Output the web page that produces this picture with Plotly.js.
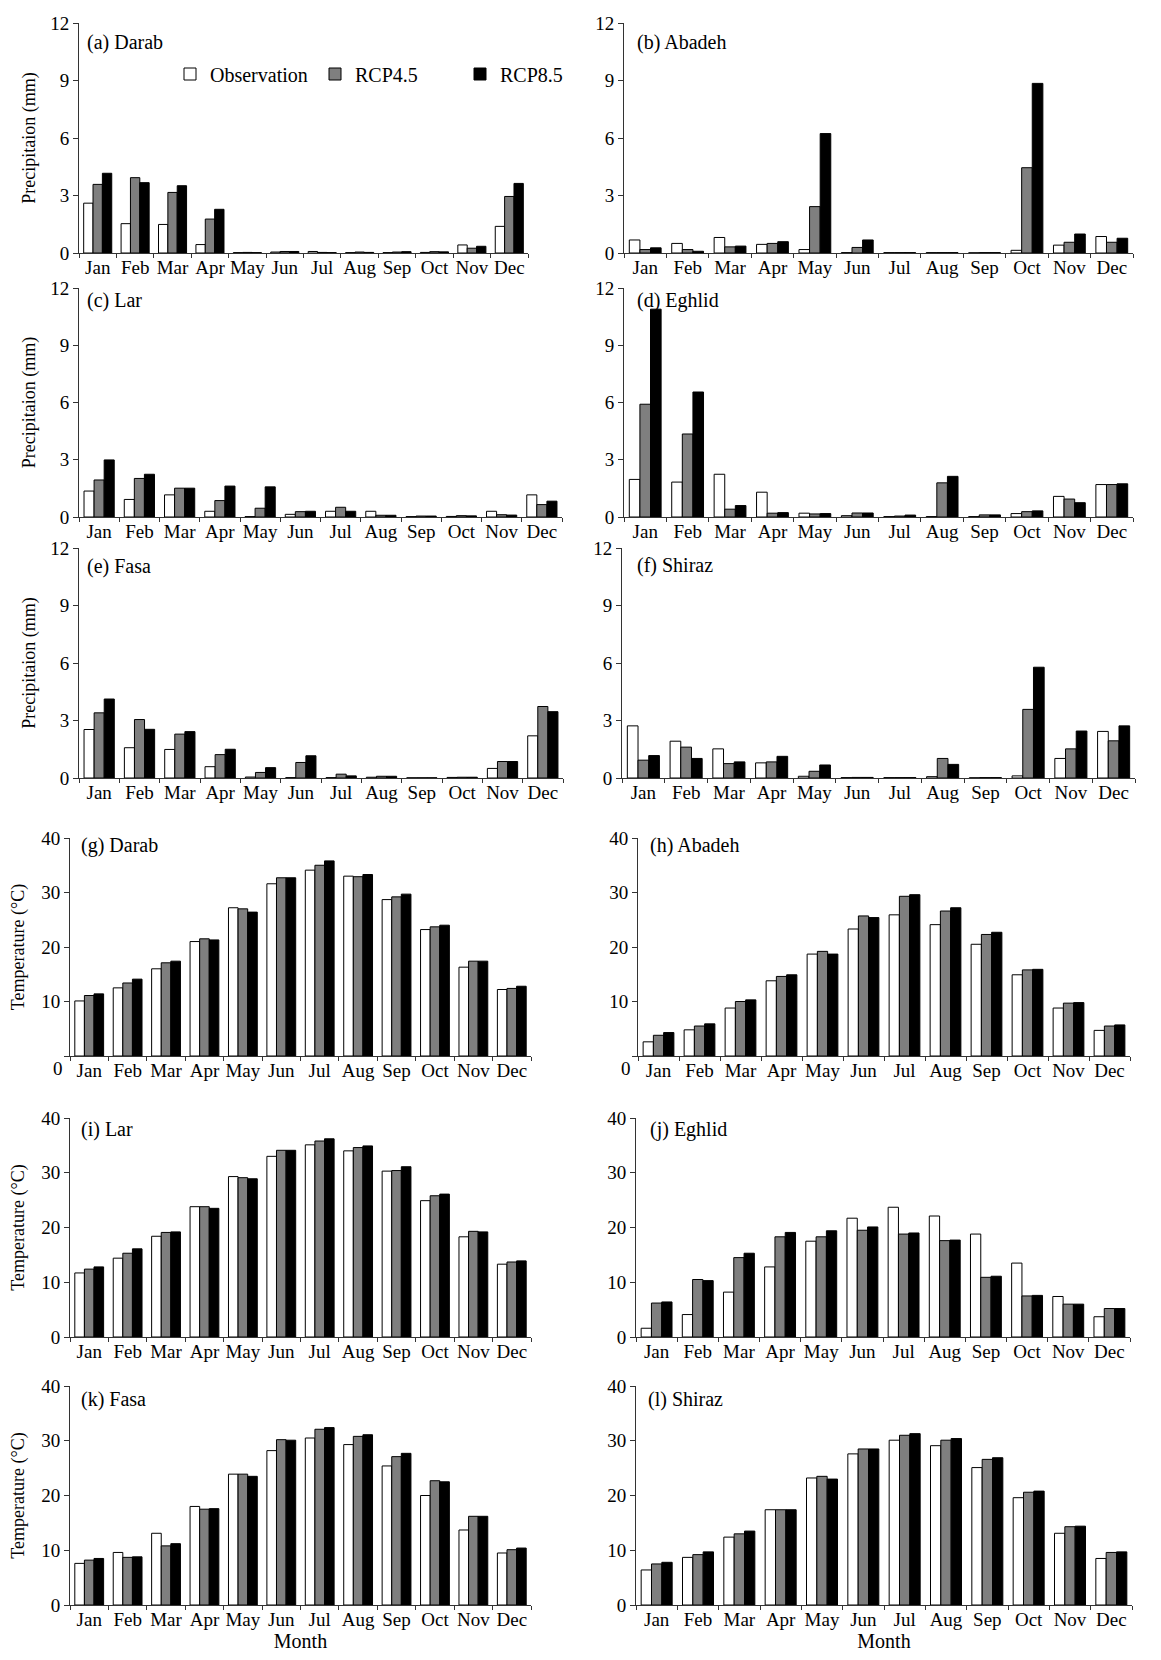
<!DOCTYPE html>
<html>
<head>
<meta charset="utf-8">
<script src="https://cdn.plot.ly/plotly-3.0.1.min.js"></script>
<style>html,body{margin:0;padding:0;background:#fff;}#chart{width:1161px;height:1660px;}</style>
</head>
<body>
<div id="chart"></div>
<script>
// ---------- data ----------
const months = ['Jan','Feb','Mar','Apr','May','Jun','Jul','Aug','Sep','Oct','Nov','Dec'];
const seriesNames = ['Observation','RCP4.5','RCP8.5'];

// Precipitation (mm)
const darabPrecipObs = [2.6,1.53,1.49,0.44,0.02,0.05,0.08,0.02,0.02,0.03,0.42,1.39];
const darabPrecip45  = [3.58,3.93,3.16,1.77,0.03,0.08,0.03,0.05,0.05,0.07,0.25,2.95];
const darabPrecip85  = [4.16,3.67,3.51,2.28,0.02,0.08,0.02,0.03,0.07,0.06,0.35,3.63];

const abadehPrecipObs = [0.68,0.5,0.81,0.45,0.18,0.02,0.02,0.02,0.01,0.14,0.41,0.86];
const abadehPrecip45  = [0.18,0.18,0.32,0.5,2.42,0.29,0.02,0.02,0.02,4.45,0.56,0.56];
const abadehPrecip85  = [0.27,0.09,0.36,0.59,6.23,0.68,0.02,0.02,0.02,8.85,0.99,0.77];

const larPrecipObs = [1.36,0.92,1.16,0.3,0.02,0.14,0.3,0.3,0.02,0.03,0.3,1.16];
const larPrecip45  = [1.94,2.02,1.51,0.86,0.46,0.28,0.51,0.09,0.05,0.07,0.12,0.65];
const larPrecip85  = [2.99,2.24,1.51,1.62,1.58,0.3,0.3,0.09,0.05,0.06,0.1,0.83];

const eghlidPrecipObs = [1.97,1.83,2.24,1.3,0.2,0.07,0.02,0.02,0.02,0.18,1.08,1.7];
const eghlidPrecip45  = [5.91,4.35,0.41,0.2,0.16,0.21,0.05,1.79,0.11,0.28,0.94,1.7];
const eghlidPrecip85  = [10.89,6.55,0.6,0.23,0.18,0.21,0.1,2.13,0.11,0.32,0.75,1.74];

const fasaPrecipObs = [2.53,1.58,1.49,0.59,0.05,0.02,0.02,0.04,0.01,0.03,0.5,2.2];
const fasaPrecip45  = [3.4,3.05,2.29,1.22,0.29,0.81,0.2,0.09,0.01,0.04,0.86,3.73];
const fasaPrecip85  = [4.12,2.54,2.42,1.5,0.54,1.16,0.11,0.09,0.01,0.04,0.86,3.46];

const shirazPrecipObs = [2.72,1.92,1.52,0.79,0.09,0.02,0.02,0.07,0.01,0.11,1.02,2.43];
const shirazPrecip45  = [0.93,1.61,0.75,0.84,0.35,0.03,0.02,1.02,0.02,3.58,1.52,1.94];
const shirazPrecip85  = [1.17,1.02,0.84,1.13,0.68,0.03,0.02,0.71,0.02,5.78,2.45,2.72];

// Temperature (°C)
const darabTempObs = [10.1,12.5,16.0,21.0,27.2,31.6,34.1,33.0,28.7,23.2,16.3,12.2];
const darabTemp45  = [11.1,13.4,17.1,21.5,27.0,32.7,35.0,32.9,29.2,23.7,17.4,12.4];
const darabTemp85  = [11.4,14.1,17.4,21.3,26.4,32.7,35.8,33.3,29.7,24.0,17.4,12.8];

const abadehTempObs = [2.6,4.8,8.8,13.8,18.7,23.3,25.9,24.1,20.5,14.9,8.8,4.7];
const abadehTemp45  = [3.8,5.5,10.0,14.6,19.2,25.7,29.3,26.6,22.3,15.8,9.7,5.5];
const abadehTemp85  = [4.3,5.9,10.3,14.9,18.7,25.4,29.6,27.2,22.7,15.9,9.8,5.7];

const larTempObs = [11.7,14.4,18.4,23.8,29.3,33.0,35.1,34.0,30.3,24.9,18.3,13.3];
const larTemp45  = [12.4,15.3,19.1,23.8,29.1,34.1,35.8,34.6,30.4,25.8,19.3,13.7];
const larTemp85  = [12.8,16.1,19.2,23.5,28.9,34.1,36.2,34.9,31.1,26.1,19.2,13.9];

const eghlidTempObs = [1.6,4.1,8.2,12.8,17.5,21.7,23.7,22.1,18.8,13.5,7.4,3.7];
const eghlidTemp45  = [6.2,10.5,14.5,18.3,18.3,19.5,18.8,17.6,10.9,7.5,6.0,5.2];
const eghlidTemp85  = [6.4,10.3,15.3,19.1,19.4,20.1,19.0,17.7,11.1,7.6,6.0,5.2];

const fasaTempObs = [7.6,9.6,13.1,18.0,23.9,28.2,30.5,29.3,25.4,20.0,13.7,9.5];
const fasaTemp45  = [8.2,8.7,10.8,17.5,23.9,30.2,32.1,30.8,27.1,22.7,16.2,10.1];
const fasaTemp85  = [8.5,8.8,11.2,17.6,23.5,30.1,32.4,31.1,27.7,22.5,16.2,10.4];

const shirazTempObs = [6.4,8.7,12.4,17.4,23.2,27.6,30.1,29.1,25.1,19.6,13.1,8.5];
const shirazTemp45  = [7.5,9.2,13.0,17.4,23.5,28.5,31.0,30.1,26.6,20.6,14.3,9.6];
const shirazTemp85  = [7.8,9.7,13.5,17.4,23.0,28.5,31.3,30.4,26.9,20.8,14.4,9.7];

const panelLabels = ['(a) Darab','(b) Abadeh','(c) Lar','(d) Eghlid','(e) Fasa','(f) Shiraz',
                     '(g) Darab','(h) Abadeh','(i) Lar','(j) Eghlid','(k) Fasa','(l) Shiraz'];
const precipTicks = [0,3,6,9,12];
const tempTicks = [0,10,20,30,40];

// ---------- layout geometry (pixels in the 1161x1660 page) ----------
const W = 1161, H = 1660;
const FONT = 'Liberation Serif, Times New Roman, serif';
const colors = ['#ffffff','#7f7f7f','#000000'];

const panels = [
  {data:[darabPrecipObs,darabPrecip45,darabPrecip85],   kind:'p', x0:79,  x1:528,  yt:23,   yb:253,  col:0, lx:6,  ly:19},
  {data:[abadehPrecipObs,abadehPrecip45,abadehPrecip85],kind:'p', x0:624, x1:1133, yt:23,   yb:253,  col:1, lx:11, ly:19},
  {data:[larPrecipObs,larPrecip45,larPrecip85],         kind:'p', x0:79,  x1:562,  yt:288,  yb:517,  col:0, lx:6,  ly:12},
  {data:[eghlidPrecipObs,eghlidPrecip45,eghlidPrecip85],kind:'p', x0:624, x1:1133, yt:288,  yb:517,  col:1, lx:11, ly:12},
  {data:[fasaPrecipObs,fasaPrecip45,fasaPrecip85],      kind:'p', x0:79,  x1:563,  yt:548,  yb:778,  col:0, lx:6,  ly:19},
  {data:[shirazPrecipObs,shirazPrecip45,shirazPrecip85],kind:'p', x0:622, x1:1135, yt:548,  yb:778,  col:1, lx:13, ly:17},
  {data:[darabTempObs,darabTemp45,darabTemp85],         kind:'t', x0:70,  x1:531,  yt:838,  yb:1056, col:0, lx:9,  ly:8, zeroLow:true},
  {data:[abadehTempObs,abadehTemp45,abadehTemp85],      kind:'t', x0:638, x1:1130, yt:838,  yb:1056, col:1, lx:10, ly:8, zeroLow:true},
  {data:[larTempObs,larTemp45,larTemp85],               kind:'t', x0:70,  x1:531,  yt:1118, yb:1337, col:0, lx:9,  ly:11},
  {data:[eghlidTempObs,eghlidTemp45,eghlidTemp85],      kind:'t', x0:636, x1:1130, yt:1118, yb:1337, col:1, lx:12, ly:11},
  {data:[fasaTempObs,fasaTemp45,fasaTemp85],            kind:'t', x0:70,  x1:531,  yt:1386, yb:1605, col:0, lx:9,  ly:13, month:true},
  {data:[shirazTempObs,shirazTemp45,shirazTemp85],      kind:'t', x0:636, x1:1132, yt:1386, yb:1605, col:1, lx:10, ly:13, month:true}
];

const traces = [];
const layout = {
  width: W, height: H,
  margin: {l:0, r:0, t:0, b:0},
  paper_bgcolor: '#fff', plot_bgcolor: 'rgba(0,0,0,0)',
  font: {family: FONT, size: 18, color: '#000'},
  barmode: 'group', bargap: 0.25, bargroupgap: 0,
  showlegend: true,
  legend: {orientation: 'h', x: 170/W, y: 1 - 74/H, xanchor: 'left', yanchor: 'middle',
           entrywidth: 100, entrywidthmode: 'pixels',
           bgcolor: 'rgba(0,0,0,0)', font: {family: FONT, size: 20}, traceorder: 'normal'},
  annotations: []
};

panels.forEach((p, i) => {
  const n = i + 1;
  const xa = 'x' + (n === 1 ? '' : n), ya = 'y' + (n === 1 ? '' : n);
  p.data.forEach((vals, s) => {
    traces.push({
      type: 'bar', x: months, y: vals, name: seriesNames[s],
      xaxis: xa, yaxis: ya, legendgroup: seriesNames[s], showlegend: i === 0,
      marker: {color: colors[s], line: {color: '#000', width: 1}},
      hoverinfo: 'x+y'
    });
  });
  const isP = p.kind === 'p';
  const ticks = isP ? precipTicks : tempTicks;
  const xKey = 'xaxis' + (n === 1 ? '' : n), yKey = 'yaxis' + (n === 1 ? '' : n);
  layout[xKey] = {
    domain: [p.x0 / W, p.x1 / W], anchor: ya, type: 'category',
    range: [-0.5, 11.5], showline: true, linecolor: '#333', linewidth: 1,
    ticks: 'outside', tickson: 'boundaries', ticklen: 4, tickcolor: '#333',
    ticklabelstandoff: -3,
    showgrid: false, zeroline: false, fixedrange: true, tickangle: 0,
    tickfont: {family: FONT, size: 19, color: '#000'},
    title: p.month ? {text: 'Month', font: {family: FONT, size: 20}, standoff: 0} : {text: ''}
  };
  layout[yKey] = {
    domain: [1 - p.yb / H, 1 - p.yt / H], anchor: xa,
    range: [0, isP ? 12 : 40], showline: true, linecolor: '#333', linewidth: 1,
    ticks: 'outside', ticklen: 5, tickcolor: '#333', showgrid: false, zeroline: false,
    tickmode: 'array', tickvals: ticks,
    ticktext: ticks.map(v => (p.zeroLow && v === 0) ? '' : String(v)),
    tickfont: {family: FONT, size: 19, color: '#000'}, fixedrange: true,
    title: p.col === 0 ? {text: isP ? 'Precipitaion (mm)' : 'Temperature (°C)',
                          font: {family: FONT, size: 18}, standoff: isP ? 9 : 11} : {text: ''}
  };
  layout.annotations.push({
    text: panelLabels[i], xref: 'paper', yref: 'paper',
    x: (p.x0 + p.lx) / W, y: 1 - (p.yt + p.ly) / H,
    xanchor: 'left', yanchor: 'middle', showarrow: false,
    font: {family: FONT, size: 20, color: '#000'}
  });
  if (p.zeroLow) {
    layout.annotations.push({
      text: '0', xref: 'paper', yref: 'paper',
      x: (p.x0 - 5) / W, y: 1 - (p.yb + 12) / H,
      xanchor: 'right', yanchor: 'middle', showarrow: false,
      font: {family: FONT, size: 19, color: '#000'}
    });
  }
});

Plotly.newPlot('chart', traces, layout, {displayModeBar: false, staticPlot: true});
</script>
</body>
</html>
